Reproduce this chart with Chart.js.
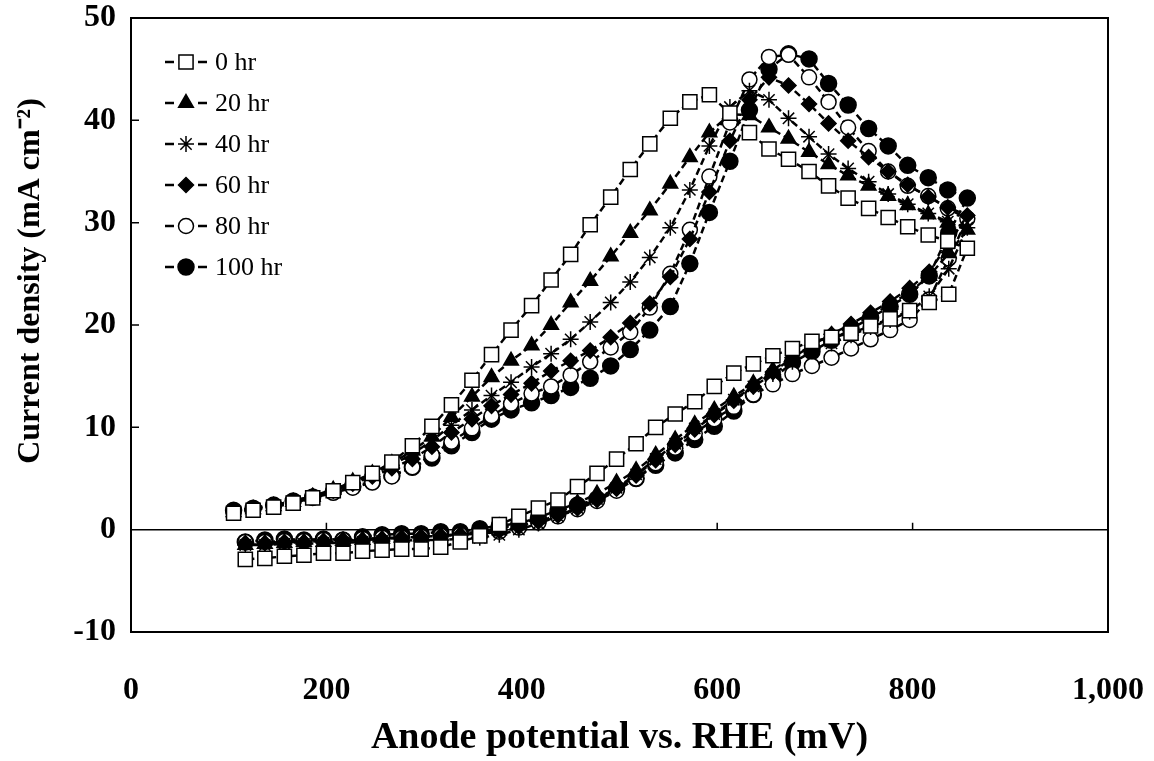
<!DOCTYPE html>
<html>
<head>
<meta charset="utf-8">
<script src="https://cdn.jsdelivr.net/npm/chart.js@4/dist/chart.umd.min.js"></script>
<style>
  html, body { margin: 0; padding: 0; background: #fff; }
  #wrap { width: 1154px; height: 761px; }
</style>
</head>
<body>
<div id="wrap"><canvas id="cvChart" width="1154" height="761"></canvas></div>
<script>
// potenciais (mV) da varredura de ida e de volta
const forwardPotential = [105, 125, 146, 166, 186, 207, 227, 247, 267, 288, 308, 328, 349, 369, 389, 410, 430, 450, 470, 491, 511, 531, 552, 572, 592, 613, 633, 653, 673, 694, 714, 734, 755, 775, 795, 816, 836, 856];
const reversePotential = [837, 817, 797, 777, 757, 737, 717, 697, 677, 657, 637, 617, 597, 577, 557, 537, 517, 497, 477, 457, 437, 417, 397, 377, 357, 337, 317, 297, 277, 257, 237, 217, 197, 177, 157, 137, 117];

const seriesLabels = ['0 hr', '20 hr', '40 hr', '60 hr', '80 hr', '100 hr'];

// densidade de corrente (mA cm-2)
const hr0Forward = [1.6, 1.9, 2.2, 2.6, 3.1, 3.8, 4.6, 5.5, 6.6, 8.2, 10.1, 12.2, 14.6, 17.1, 19.5, 21.9, 24.4, 26.9, 29.8, 32.5, 35.2, 37.7, 40.2, 41.8, 42.5, 40.7, 38.8, 37.2, 36.2, 35.0, 33.6, 32.4, 31.4, 30.5, 29.6, 28.8, 28.2, 27.5];
const hr0Reverse = [23.0, 22.2, 21.4, 20.6, 19.9, 19.2, 18.8, 18.4, 17.7, 17.0, 16.2, 15.3, 14.0, 12.5, 11.3, 10.0, 8.4, 6.9, 5.5, 4.2, 2.9, 2.1, 1.3, 0.5, -0.6, -1.2, -1.7, -1.9, -1.9, -2.0, -2.1, -2.3, -2.3, -2.5, -2.6, -2.8, -2.9];

const hr20Forward = [1.7, 2.0, 2.3, 2.7, 3.2, 3.9, 4.7, 5.5, 6.5, 7.7, 9.1, 11.0, 13.0, 14.9, 16.5, 18.0, 20.0, 22.2, 24.3, 26.7, 29.0, 31.2, 33.8, 36.4, 38.8, 40.6, 40.5, 39.3, 38.2, 36.9, 35.7, 34.6, 33.6, 32.6, 31.7, 30.8, 30.0, 29.3];
const hr20Reverse = [27.0, 24.8, 23.2, 22.0, 20.9, 19.9, 19.0, 18.0, 16.9, 15.6, 14.3, 13.0, 11.7, 10.3, 8.8, 7.3, 5.8, 4.6, 3.5, 2.6, 1.9, 1.2, 0.6, 0.1, -0.2, -0.4, -0.6, -0.7, -0.8, -0.9, -1.0, -1.1, -1.2, -1.2, -1.3, -1.4, -1.5];

const hr40Forward = [1.8, 2.1, 2.4, 2.8, 3.3, 3.9, 4.6, 5.4, 6.3, 7.4, 8.7, 10.2, 11.7, 13.1, 14.4, 15.9, 17.2, 18.6, 20.3, 22.2, 24.2, 26.6, 29.5, 33.2, 37.5, 41.3, 42.9, 42.0, 40.2, 38.4, 36.7, 35.3, 34.0, 32.8, 31.8, 30.9, 30.1, 29.5];
const hr40Reverse = [25.5, 22.8, 21.3, 20.5, 19.8, 19.0, 18.2, 17.4, 16.4, 15.2, 14.0, 12.7, 11.3, 9.9, 8.4, 6.9, 5.4, 4.1, 3.0, 2.1, 1.3, 0.6, 0.0, -0.5, -0.8, -0.9, -1.0, -1.0, -1.1, -1.1, -1.2, -1.3, -1.3, -1.4, -1.4, -1.5, -1.5];

const hr60Forward = [1.8, 2.1, 2.4, 2.8, 3.3, 3.8, 4.5, 5.2, 6.0, 6.9, 8.1, 9.5, 10.8, 12.1, 13.2, 14.3, 15.5, 16.5, 17.5, 18.8, 20.2, 22.1, 24.7, 28.4, 33.0, 38.0, 42.0, 44.2, 43.4, 41.6, 39.7, 38.0, 36.4, 35.0, 33.7, 32.5, 31.5, 30.7];
const hr60Reverse = [28.0, 25.2, 23.6, 22.3, 21.2, 20.1, 19.1, 18.0, 16.8, 15.4, 14.0, 12.6, 11.2, 9.8, 8.3, 6.8, 5.3, 4.0, 2.9, 2.1, 1.4, 0.8, 0.3, -0.1, -0.3, -0.5, -0.6, -0.7, -0.8, -0.9, -1.0, -1.0, -1.1, -1.2, -1.2, -1.3, -1.3];

const hr80Forward = [1.7, 2.0, 2.3, 2.7, 3.1, 3.6, 4.1, 4.6, 5.2, 6.1, 7.3, 8.6, 9.9, 11.1, 12.3, 13.3, 14.0, 15.1, 16.4, 17.8, 19.3, 21.7, 25.0, 29.3, 34.5, 39.8, 44.0, 46.2, 46.4, 44.2, 41.8, 39.3, 37.0, 35.0, 33.6, 32.6, 31.4, 30.4];
const hr80Reverse = [26.5, 22.5, 20.5, 19.5, 18.6, 17.7, 16.8, 16.0, 15.2, 14.2, 13.2, 12.0, 10.8, 9.4, 8.0, 6.5, 5.0, 3.8, 2.8, 2.0, 1.3, 0.7, 0.2, -0.2, -0.4, -0.5, -0.6, -0.7, -0.8, -0.8, -0.9, -1.0, -1.0, -1.1, -1.1, -1.2, -1.2];

const hr100Forward = [1.9, 2.1, 2.4, 2.8, 3.2, 3.7, 4.2, 4.7, 5.3, 6.1, 7.0, 8.2, 9.5, 10.8, 11.7, 12.4, 13.1, 13.9, 14.8, 16.0, 17.6, 19.5, 21.8, 26.0, 31.0, 36.0, 41.0, 45.0, 46.5, 46.0, 43.6, 41.5, 39.2, 37.5, 35.6, 34.4, 33.2, 32.4];
const hr100Reverse = [29.0, 24.8, 23.0, 21.8, 20.7, 19.6, 18.5, 17.4, 16.3, 14.8, 13.2, 11.6, 10.1, 8.8, 7.5, 6.3, 5.0, 4.0, 3.0, 2.4, 1.8, 1.1, 0.6, 0.4, 0.1, -0.2, -0.2, -0.4, -0.4, -0.5, -0.7, -1.0, -0.9, -1.0, -0.9, -1.0, -1.2];

const xTickStep = 200;
const yTickStep = 10;

const SERIF = "'Liberation Serif', 'Times New Roman', serif";

// estilo dos marcadores de cada série
const markers = [
  { pointStyle: 'rect', radius: 10, fill: '#fff' },
  { pointStyle: 'triangle', radius: 8.5, fill: '#000' },
  { pointStyle: 'star', radius: 8, fill: '#000' },
  { pointStyle: 'rectRot', radius: 7.5, fill: '#000' },
  { pointStyle: 'circle', radius: 7.5, fill: '#fff' },
  { pointStyle: 'circle', radius: 8, fill: '#000' }
];

const forwardSeries = [hr0Forward, hr20Forward, hr40Forward, hr60Forward, hr80Forward, hr100Forward];
const reverseSeries = [hr0Reverse, hr20Reverse, hr40Reverse, hr60Reverse, hr80Reverse, hr100Reverse];

function loopPoints(fwd, rev) {
  const pts = fwd.map((v, i) => ({ x: forwardPotential[i], y: v }));
  return pts.concat(rev.map((v, i) => ({ x: reversePotential[i], y: v })));
}

const datasets = seriesLabels.map((label, i) => ({
  label,
  data: loopPoints(forwardSeries[i], reverseSeries[i]),
  showLine: true,
  tension: 0,
  borderColor: '#000',
  borderWidth: 2.5,
  borderDash: [7, 4],
  pointStyle: markers[i].pointStyle,
  pointRadius: markers[i].radius,
  pointHoverRadius: markers[i].radius,
  pointBackgroundColor: markers[i].fill,
  pointBorderColor: '#000',
  pointBorderWidth: 1.5
}));

// moldura, linha do zero e marcas internas
const framePlugin = {
  id: 'frame',
  beforeDatasetsDraw(chart) {
    const { ctx, chartArea: a, scales: { x, y } } = chart;
    const y0 = y.getPixelForValue(0);
    ctx.save();
    ctx.strokeStyle = '#000';
    ctx.lineWidth = 2;
    ctx.strokeRect(a.left, a.top, a.width, a.height);
    ctx.lineWidth = 1.5;
    ctx.beginPath();
    ctx.moveTo(a.left, y0);
    ctx.lineTo(a.right, y0);
    x.ticks.forEach(t => {
      const px = x.getPixelForValue(t.value);
      if (px > a.left + 2 && px < a.right - 2) {
        ctx.moveTo(px, y0);
        ctx.lineTo(px, y0 - 7);
      }
    });
    y.ticks.forEach(t => {
      const py = y.getPixelForValue(t.value);
      if (py > a.top + 2 && py < a.bottom - 2) {
        ctx.moveTo(a.left, py);
        ctx.lineTo(a.left + 8, py);
      }
    });
    ctx.stroke();
    ctx.restore();
  }
};

// legenda dentro da área do gráfico
const insideLegend = {
  id: 'insideLegend',
  afterDatasetsDraw(chart) {
    const { ctx, chartArea: a } = chart;
    const x0 = a.left + 34;
    const top = a.top + 44;
    const gap = 41;
    ctx.save();
    ctx.font = '26px ' + SERIF;
    ctx.textBaseline = 'middle';
    chart.data.datasets.forEach((ds, i) => {
      const cy = top + i * gap;
      ctx.strokeStyle = '#000';
      ctx.lineWidth = 2.5;
      ctx.setLineDash([]);
      ctx.beginPath();
      ctx.moveTo(x0, cy);
      ctx.lineTo(x0 + 9, cy);
      ctx.moveTo(x0 + 33, cy);
      ctx.lineTo(x0 + 42, cy);
      ctx.stroke();
      ctx.fillStyle = markers[i].fill;
      ctx.lineWidth = 1.5;
      Chart.helpers.drawPoint(ctx, {
        pointStyle: markers[i].pointStyle,
        radius: markers[i].radius,
        rotation: 0,
        borderWidth: 1.5
      }, x0 + 21, cy);
      ctx.fillStyle = '#000';
      ctx.fillText(ds.label, x0 + 50, cy + 1);
    });
    ctx.restore();
  }
};

new Chart(document.getElementById('cvChart').getContext('2d'), {
  type: 'scatter',
  data: { datasets },
  options: {
    responsive: false,
    animation: false,
    layout: { padding: { top: 18, right: 46, left: 0, bottom: 0 } },
    plugins: {
      legend: { display: false },
      tooltip: { enabled: false }
    },
    scales: {
      x: {
        type: 'linear',
        min: 0,
        max: 1000,
        ticks: {
          stepSize: xTickStep,
          color: '#000',
          padding: 40,
          maxRotation: 0,
          font: { family: SERIF, size: 32, weight: 'bold' }
        },
        grid: { display: false, drawTicks: false },
        border: { display: false },
        title: {
          display: true,
          text: 'Anode potential vs. RHE (mV)',
          color: '#000',
          padding: { top: 0, bottom: 0 },
          font: { family: SERIF, size: 38, weight: 'bold' }
        },
        afterFit(scale) {
          scale.height = 129;
          scale.paddingLeft = 0;
          scale.paddingRight = 0;
        }
      },
      y: {
        type: 'linear',
        min: -10,
        max: 50,
        ticks: {
          stepSize: yTickStep,
          color: '#000',
          padding: 15,
          font: { family: SERIF, size: 32, weight: 'bold' }
        },
        grid: { display: false, drawTicks: false },
        border: { display: false },
        title: {
          display: true,
          // espaços iniciais sobem o título como no original
          text: '           Current density (mA cm⁻²)',
          color: '#000',
          padding: { top: 12, bottom: 0 },
          font: { family: SERIF, size: 32, weight: 'bold' }
        },
        afterFit(scale) {
          scale.width = 131;
          scale.paddingTop = 0;
          scale.paddingBottom = 0;
        }
      }
    }
  },
  plugins: [framePlugin, insideLegend]
});
</script>
</body>
</html>
